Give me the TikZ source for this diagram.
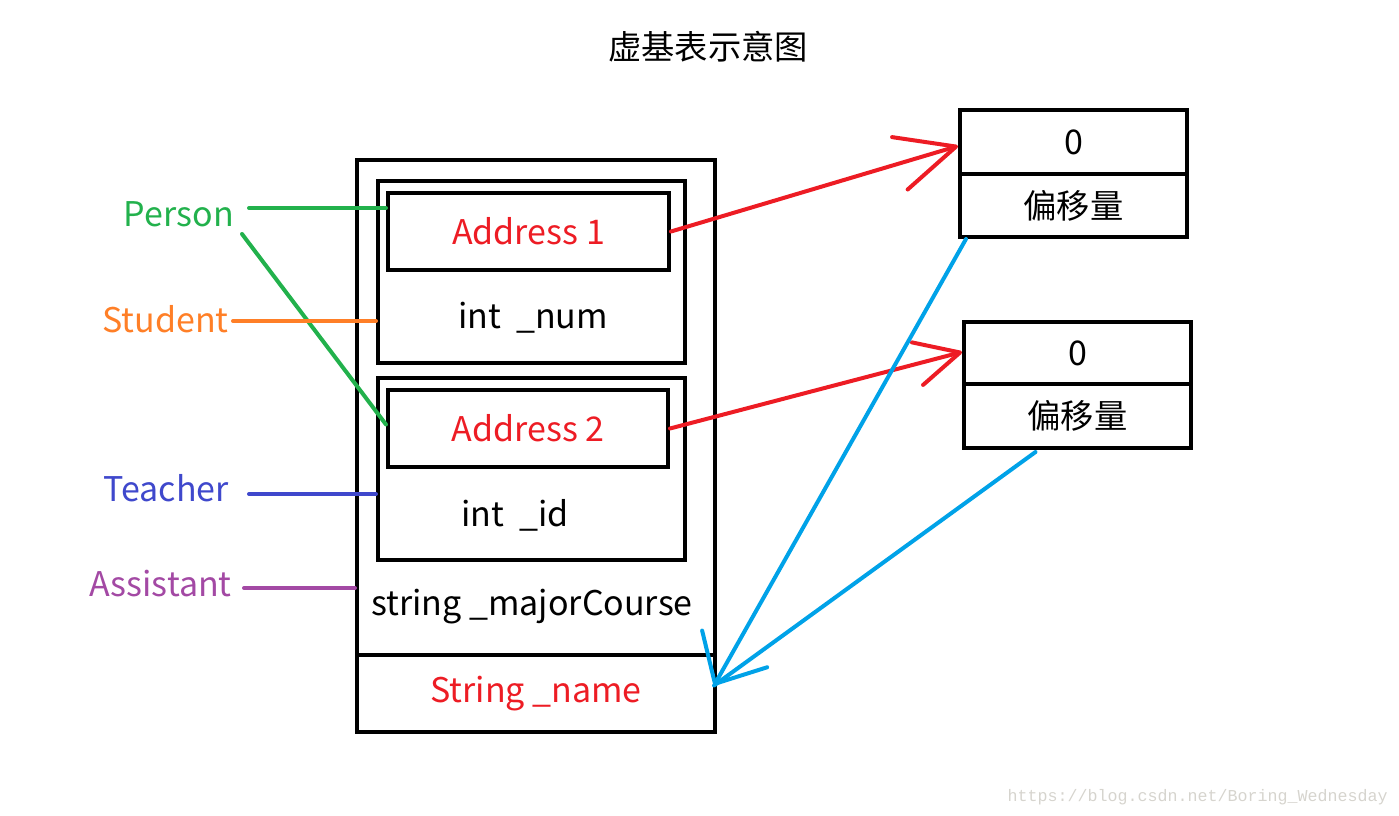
\documentclass[tikz,border=0pt]{standalone}
\usepackage{fontspec}
\setmainfont{Noto Sans CJK SC}
\newfontfamily\wmfont{Liberation Mono}
\usetikzlibrary{arrows.meta}

\begin{document}
\begin{tikzpicture}[x=0.75pt,y=-0.75pt,
    box/.style={draw,line width=3pt,inner sep=0pt},
    txt/.style={font=\fontsize{25.5}{30}\selectfont,inner sep=0pt},
    cjk/.style={font=\fontsize{25}{30}\selectfont,inner sep=0pt},
    conn/.style={line width=3pt,line cap=round}]

\definecolor{myred}{RGB}{237,28,36}
\definecolor{mygreen}{RGB}{34,177,76}
\definecolor{myorange}{RGB}{255,127,39}
\definecolor{myindigo}{RGB}{63,72,204}
\definecolor{mypurple}{RGB}{163,73,164}
\definecolor{mycyan}{RGB}{0,162,232}
\definecolor{mywm}{RGB}{214,212,206}

    %Rahmen
    \useasboundingbox (0,0) rectangle (1399,816);

    %Titel
    \node[cjk] (title) at (708,47) {虚基表示意图};

    %Objekt
    \node[box,minimum width=358*0.75pt,minimum height=572*0.75pt] (outer) at (536,446) {};
    \node[box,txt,text=myred,minimum width=358*0.75pt,minimum height=77*0.75pt] (namecell) at (536,693.5) {String \_name};
    \node[box,minimum width=307*0.75pt,minimum height=182*0.75pt] (inner1) at (531.5,272) {};
    \node[box,txt,text=myred,minimum width=281*0.75pt,minimum height=77*0.75pt] (addr1) at (528.5,231.5) {Address 1};
    \node[box,minimum width=307*0.75pt,minimum height=182*0.75pt] (inner2) at (531.5,469) {};
    \node[box,txt,text=myred,minimum width=280*0.75pt,minimum height=77*0.75pt] (addr2) at (528,428.5) {Address 2};
    \node[txt] (num) at (533,318) {int~~\_num};
    \node[txt] (id) at (515,515) {int~~\_id};
    \node[txt] (major) at (532,607) {string \_majorCourse};

    %Tabellen
    \node[box,txt,minimum width=227*0.75pt,minimum height=64*0.75pt] (zero1) at (1073.5,142) {0};
    \node[box,cjk,minimum width=227*0.75pt,minimum height=63*0.75pt] (off1) at (1073.5,205.5) {偏移量};
    \node[box,txt,minimum width=227*0.75pt,minimum height=62*0.75pt] (zero2) at (1077.5,353) {0};
    \node[box,cjk,minimum width=227*0.75pt,minimum height=64*0.75pt] (off2) at (1077.5,416) {偏移量};

    %Labels
    \node[txt,text=mygreen,anchor=east] (person) at (234,214) {Person};
    \node[txt,text=myorange,anchor=east] (student) at (229,319) {Student};
    \node[txt,text=myindigo,anchor=east] (teacher) at (229,488) {Teacher};
    \node[txt,text=mypurple,anchor=east] (assistant) at (232,584) {Assistant};
    \node[font=\wmfont\fontsize{12.5}{14}\selectfont,text=mywm,anchor=east,inner sep=0pt] (wm) at (1388,797) {https://blog.csdn.net/Boring\_Wednesday};

    %Linien
    \coordinate (pl) at ([shift={(15,-6)}]person.east);
    \draw[conn,mygreen] (pl) -- (pl -| addr1.west);
    \draw[conn,mygreen] ([shift={(8,20)}]person.east) -- ([shift={(0,-4)}]addr2.west);
    \coordinate (sl) at ([shift={(4,2)}]student.east);
    \draw[conn,myorange] (sl) -- (sl -| inner1.west);
    \coordinate (tl) at ([shift={(20,6)}]teacher.east);
    \draw[conn,myindigo] (tl) -- (tl -| inner2.west);
    \coordinate (al) at ([shift={(12,4)}]assistant.east);
    \draw[conn,mypurple] (al) -- (al -| outer.west);

    %Pfeile
    \draw[conn,myred,-{Straight Barb[length=44pt,width=41pt,round]}] (addr1.east) -- ([shift={(0,4)}]zero1.west);
    \draw[conn,myred,-{Straight Barb[length=33pt,width=33pt,round]}] (addr2.east) -- ([shift={(0,-1)}]zero2.west);
    \draw[conn,mycyan,-{Straight Barb[length=30pt,width=56pt,round]}] ([shift={(8,0)}]off1.south west) -- ([shift={(-3,-8)}]namecell.east);
    \draw[conn,mycyan] ([shift={(-42,2)}]off2.south) -- ([shift={(-3,-8)}]namecell.east);

\end{tikzpicture}
\end{document}
